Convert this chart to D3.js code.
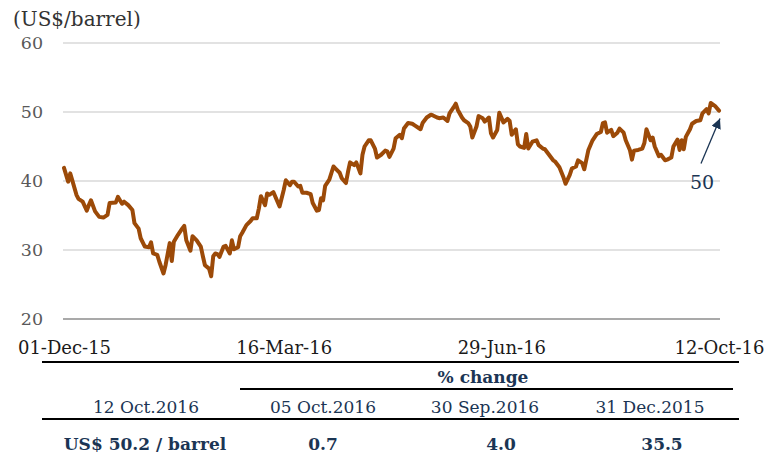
<!DOCTYPE html>
<html>
<head>
<meta charset="utf-8">
<script src="https://cdn.jsdelivr.net/npm/d3@7"></script>
<style>
  body { margin: 0; background: #fff; }
  svg { display: block; font-family: "DejaVu Serif", serif; }
</style>
</head>
<body>
<div id="okvir"></div>
<script>
// days after 01-Dec-15 and the price on that day (US$/barrel)
const dani = [0,2,3,4,6,7,9,11,12,13,15,17,19,21,22,25,26,28,29,31,33,34,36,37,39,41,42,43,45,46,48,49,51,52,53,55,57,58,59,61,62,64,66,67,68,70,71,72,73,74,75,77,78,80,81,82,84,85,86,88,90,91,93,94,95,97,98,99,101,103,104,106,107,109,110,111,113,114,115,117,119,120,122,123,124,125,126,128,130,131,133,134,136,137,138,140,141,143,144,145,147,148,150,151,153,155,156,157,159,160,162,163,164,166,168,169,172,173,175,177,178,180,181,183,185,186,188,189,190,192,193,195,196,197,199,200,202,203,205,206,207,209,210,212,214,215,216,218,219,220,222,223,224,226,228,229,231,232,234,236,237,239,241,242,244,245,247,248,250,251,252,253,255,257,259,260,261,262,264,265,267,268,270,271,273,274,275,277,279,280,281,283,284,285,287,288,290,291,293,294,296,297,298,299,300,302,303,305,307,308,310,311,312,314,316]
const cijene = [41.9,39.9,41.1,40.1,38.0,37.4,37.0,35.7,36.5,37.2,35.6,34.8,34.7,35.1,36.8,36.9,37.7,36.7,37.0,36.5,35.8,33.9,33.1,31.7,30.5,30.4,31.1,29.5,29.3,28.3,26.6,27.8,31.0,28.4,31.2,32.2,33.1,33.5,31.4,29.9,32.0,31.4,30.5,29.1,27.8,27.3,26.2,29.1,29.5,29.4,29.0,30.5,30.6,29.5,31.4,30.1,30.4,32.0,32.5,33.6,34.2,34.6,34.6,36.0,37.8,36.5,38.2,38.0,38.4,37.0,36.3,38.7,40.1,39.4,39.9,39.9,39.2,39.3,38.3,38.3,38.1,36.8,35.7,35.8,37.5,37.2,39.3,40.2,42.1,41.8,41.2,40.4,39.7,41.3,42.7,42.3,42.7,41.1,43.8,45.0,45.9,45.9,44.7,43.4,43.8,44.4,44.3,43.5,44.7,46.2,46.7,46.2,47.6,48.4,48.3,48.1,47.5,48.4,49.2,49.6,49.5,49.2,49.1,49.2,48.7,49.8,50.7,51.2,50.3,49.2,48.8,48.4,47.9,46.3,47.9,49.4,49.1,48.6,49.2,46.9,46.3,47.4,49.9,48.5,49.0,48.7,46.7,47.5,45.3,45.0,44.8,46.8,44.7,45.7,45.9,45.2,44.7,44.6,43.8,43.0,42.8,42.0,40.5,39.6,40.9,41.8,42.1,43.0,42.6,41.7,43.1,44.5,45.9,46.8,47.1,48.4,48.5,47.0,47.4,46.5,47.0,47.6,47.0,45.9,44.5,43.1,44.4,44.5,44.7,45.5,47.5,45.9,46.3,45.0,43.6,43.8,43.0,43.1,43.4,45.0,46.0,44.5,45.9,44.6,46.4,47.5,48.3,48.7,48.8,49.8,50.4,49.8,51.3,50.9,50.2]

const oznakeX = ["01-Dec-15", "16-Mar-16", "29-Jun-16", "12-Oct-16"]
const oznakeY = [20, 30, 40, 50, 60]
const zadnjaVrijednost = "50"

const zaglavlje = ["12 Oct.2016", "05 Oct.2016", "30 Sep.2016", "31 Dec.2015"]
const vrijednosti = ["US$ 50.2 / barrel", "0.7", "4.0", "35.5"]

const datumParser = d3.timeParse("%d-%b-%y")
const pocetak = datumParser(oznakeX[0])
const dataset = dani.map((d, i) => ({ date: d3.timeDay.offset(pocetak, d), price: cijene[i] }))

const sirina = 776, visina = 454
const dim = { left: 64, right: 719, top: 43, bottom: 319 }

const okvir = d3.select("#okvir").append("svg")
  .attr("width", sirina)
  .attr("height", visina)

const xScale = d3.scaleTime()
  .domain([pocetak, datumParser(oznakeX[3])])
  .range([dim.left, dim.right])
const yScale = d3.scaleLinear()
  .domain([20, 60])
  .range([dim.bottom, dim.top])

// mreza
okvir.append("g")
  .selectAll("line")
  .data(oznakeY)
  .enter().append("line")
    .attr("x1", dim.left - 1)
    .attr("x2", 720)
    .attr("y1", d => yScale(d))
    .attr("y2", d => yScale(d))
    .attr("stroke", d => d === 20 ? "#8c8c8c" : "#d9d9d9")
    .attr("stroke-width", 1.5)

// y os
const yOs = okvir.append("g")
  .attr("transform", `translate(${dim.left - 20},0)`)
  .call(d3.axisLeft(yScale).tickValues(oznakeY).tickSize(0).tickPadding(0))
yOs.select(".domain").remove()
yOs.selectAll("text")
  .attr("font-family", "DejaVu Serif")
  .attr("font-size", 17.5)
  .attr("fill", "#595959")
  .attr("text-anchor", "middle")
  .attr("x", -12)

okvir.append("text")
  .attr("x", 13)
  .attr("y", 26)
  .attr("font-size", 20)
  .attr("fill", "#333")
  .text("(US$/barrel)")

// x os
const xOs = okvir.append("g")
  .attr("transform", `translate(0,${dim.bottom})`)
  .call(d3.axisBottom(xScale).tickValues(oznakeX.map(datumParser)).tickSize(0).tickPadding(0).tickFormat(d3.timeFormat("%d-%b-%y")))
xOs.select(".domain").remove()
xOs.selectAll("text")
  .attr("font-family", "DejaVu Serif")
  .attr("font-size", 18)
  .attr("fill", "#1a1a1a")
  .attr("dy", 0)
  .attr("y", 35)

// linija
const linija = d3.line()
  .x(d => xScale(d.date))
  .y(d => yScale(d.price))
okvir.append("path")
  .datum(dataset)
  .attr("d", linija)
  .attr("fill", "none")
  .attr("stroke", "#9c4a08")
  .attr("stroke-width", 4)
  .attr("stroke-linejoin", "round")
  .attr("stroke-linecap", "round")

// anotacija
const zadnja = dataset[dataset.length - 1]
const vrhX = xScale(zadnja.date) + 1, vrhY = yScale(zadnja.price) + 8
okvir.append("defs").append("marker")
  .attr("id", "strelica")
  .attr("viewBox", "0 0 10 10")
  .attr("refX", 10).attr("refY", 5)
  .attr("markerWidth", 10).attr("markerHeight", 10)
  .attr("markerUnits", "userSpaceOnUse")
  .attr("orient", "auto")
  .append("path")
    .attr("d", "M0,0 L10,5 L0,10 Z")
    .attr("fill", "#1b3554")
okvir.append("line")
  .attr("x1", vrhX - 19).attr("y1", vrhY + 45)
  .attr("x2", vrhX).attr("y2", vrhY)
  .attr("stroke", "#1b3554")
  .attr("stroke-width", 1.3)
  .attr("marker-end", "url(#strelica)")
okvir.append("text")
  .attr("x", vrhX - 18)
  .attr("y", vrhY + 70)
  .attr("text-anchor", "middle")
  .attr("font-size", 19)
  .attr("fill", "#1b3554")
  .text(zadnjaVrijednost)

// tablica
const crta = (x1, x2, y) => okvir.append("line")
  .attr("x1", x1).attr("x2", x2).attr("y1", y).attr("y2", y)
  .attr("stroke", "#000").attr("stroke-width", 2)
crta(42, 739, 362)
crta(240, 733, 389)
crta(42, 739, 419)

okvir.append("text")
  .attr("x", 483).attr("y", 383)
  .attr("text-anchor", "middle")
  .attr("font-size", 17)
  .attr("font-weight", "bold")
  .attr("fill", "#1b3554")
  .text("% change")

const stupciZaglavlja = [146, 323, 485, 650]
const stupciVrijednosti = [145, 323, 501, 662]
okvir.selectAll(".zaglavlje")
  .data(zaglavlje)
  .enter().append("text")
    .attr("class", "zaglavlje")
    .attr("x", (d, i) => stupciZaglavlja[i])
    .attr("y", 413)
    .attr("text-anchor", "middle")
    .attr("font-size", 17)
    .attr("fill", "#1b3554")
    .text(d => d)
okvir.selectAll(".vrijednost")
  .data(vrijednosti)
  .enter().append("text")
    .attr("class", "vrijednost")
    .attr("x", (d, i) => stupciVrijednosti[i])
    .attr("y", 450)
    .attr("text-anchor", "middle")
    .attr("font-size", 17)
    .attr("font-weight", "bold")
    .attr("fill", "#1b3554")
    .text(d => d)
</script>
</body>
</html>
